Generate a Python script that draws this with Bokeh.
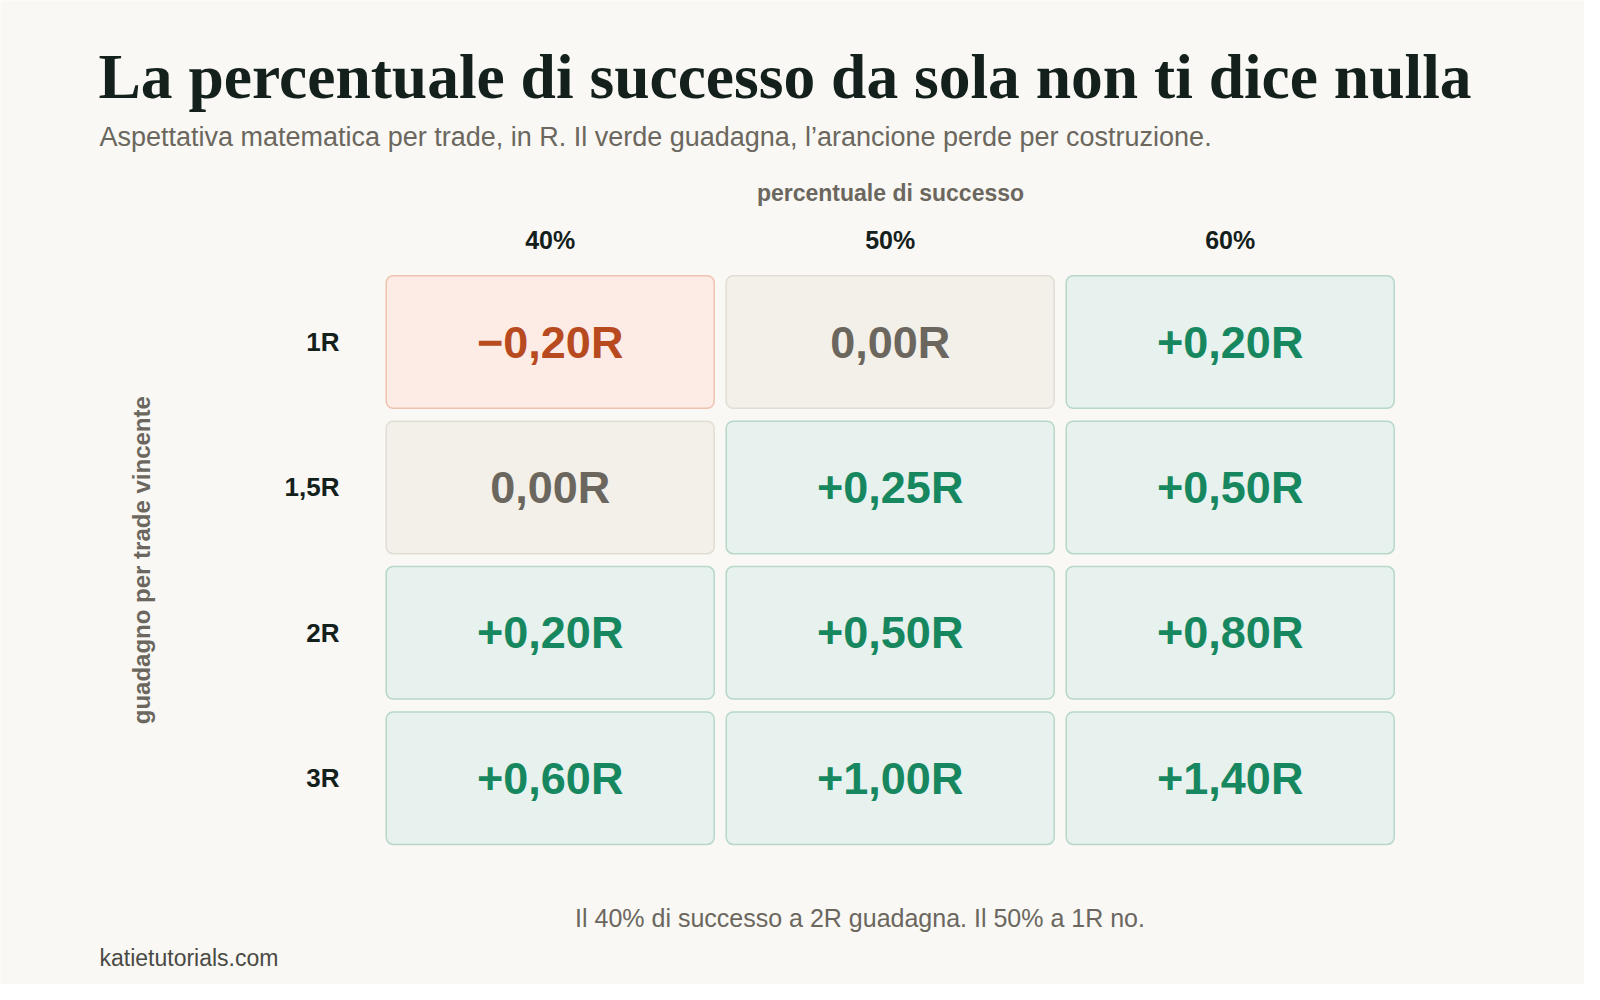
from bokeh.plotting import figure
from bokeh.models import ColumnDataSource, Range1d, Label
from bokeh.core.properties import value
from bokeh.embed import file_html
from bokeh.resources import INLINE

# data
win_rates = ["40%", "50%", "60%"]
payoffs = ["1R", "1,5R", "2R", "3R"]
expectancy = [
    [-0.20, 0.00, 0.20],
    [0.00, 0.25, 0.50],
    [0.20, 0.50, 0.80],
    [0.60, 1.00, 1.40],
]

title = "La percentuale di successo da sola non ti dice nulla"
subtitle = "Aspettativa matematica per trade, in R. Il verde guadagna, l\u2019arancione perde per costruzione."
x_title = "percentuale di successo"
y_title = "guadagno per trade vincente"
note = "Il 40% di successo a 2R guadagna. Il 50% a 1R no."
footer = "katietutorials.com"

BG = "#f9f8f4"
INK = "#14201b"
GREY = "#6b675e"
SANS = value("Liberation Sans")

# pixel -> grid units (one unit = one cell pitch)
CX, CY, PX, PY = 549.7, 341.5, 340.0, 145.4
def X(px): return (px - CX) / PX
def Y(py): return (py - CY) / PY

W, H = 1584, 984
p = figure(width=W, height=H, output_backend="svg", toolbar_location=None,
           x_range=Range1d(X(0), X(W)), y_range=Range1d(Y(H), Y(0)),
           min_border=0, background_fill_color=BG, border_fill_color=BG,
           outline_line_color=None)
p.axis.visible = False
p.grid.visible = False

# cells
styles = {
    "neg": ("#fdece6", "#efc3b0", "#b84a1f"),
    "zero": ("#f3f0ea", "#e1ddd4", GREY),
    "pos": ("#e7f2ee", "#b6d7c9", "#17875f"),
}
xs, ys, fills, lines, colors, labels = [], [], [], [], [], []
for r, row in enumerate(expectancy):
    for c, v in enumerate(row):
        kind = "neg" if v < 0 else ("zero" if v == 0 else "pos")
        f, l, t = styles[kind]
        xs.append(c); ys.append(r)
        fills.append(f); lines.append(l); colors.append(t)
        s = ("%.2f" % abs(v)).replace(".", ",") + "R"
        labels.append(("\u2212" if v < 0 else "+" if v > 0 else "") + s)

hw, hh = 164 / PX, 66.25 / PY
src = ColumnDataSource(dict(
    x=xs, y=ys, fill=fills, line=lines, color=colors, label=labels,
    left=[x - hw for x in xs], right=[x + hw for x in xs],
    top=[y - hh for y in ys], bottom=[y + hh for y in ys],
))
p.quad(left="left", right="right", top="top", bottom="bottom", source=src,
       fill_color="fill", line_color="line", line_width=1.5, border_radius=7)
p.text(x="x", y="y", text="label", source=src, text_color="color",
       text_font=SANS, text_font_style="bold", text_font_size="45px",
       text_align="center", text_baseline="alphabetic")

# column and row labels
p.text(x=list(range(len(win_rates))), y=[Y(239)] * len(win_rates), text=win_rates,
       text_font=SANS, text_font_style="bold", text_font_size="25px",
       text_color=INK, text_align="center", text_baseline="alphabetic")
p.text(x=[X(339)] * len(payoffs), y=list(range(len(payoffs))), text=payoffs,
       text_font=SANS, text_font_style="bold", text_font_size="26px",
       text_color=INK, text_align="right", text_baseline="alphabetic")

# axis titles
p.add_layout(Label(x=X(890), y=Y(192), text=x_title, text_font="Liberation Sans",
                   text_font_style="bold", text_font_size="23px", text_color=GREY,
                   text_align="center", text_baseline="alphabetic"))
p.add_layout(Label(x=X(141), y=Y(559.7), text=y_title, text_font="Liberation Sans",
                   text_font_style="bold", text_font_size="24px", text_color=GREY,
                   text_align="center", text_baseline="alphabetic", angle=90, angle_units="deg"))

# title block, note, footer
p.add_layout(Label(x=X(98), y=Y(75.5), text=title, text_font="Liberation Serif",
                   text_font_style="bold", text_font_size="63.5px", text_color=INK,
                   text_baseline="alphabetic"))
p.add_layout(Label(x=X(99), y=Y(136.3), text=subtitle, text_font="Liberation Sans",
                   text_font_size="27px", text_color=GREY, text_baseline="alphabetic"))
p.add_layout(Label(x=X(859.5), y=Y(917), text=note, text_font="Liberation Sans",
                   text_font_size="25px", text_color=GREY, text_align="center",
                   text_baseline="alphabetic"))
p.add_layout(Label(x=X(99), y=Y(957), text=footer, text_font="Liberation Sans",
                   text_font_size="23px", text_color="#4a4a44", text_baseline="alphabetic"))

html = file_html(p, INLINE)
html = html.replace("<body>", '<body style="background:%s">' % BG, 1)
open("out.html", "w").write(html)
